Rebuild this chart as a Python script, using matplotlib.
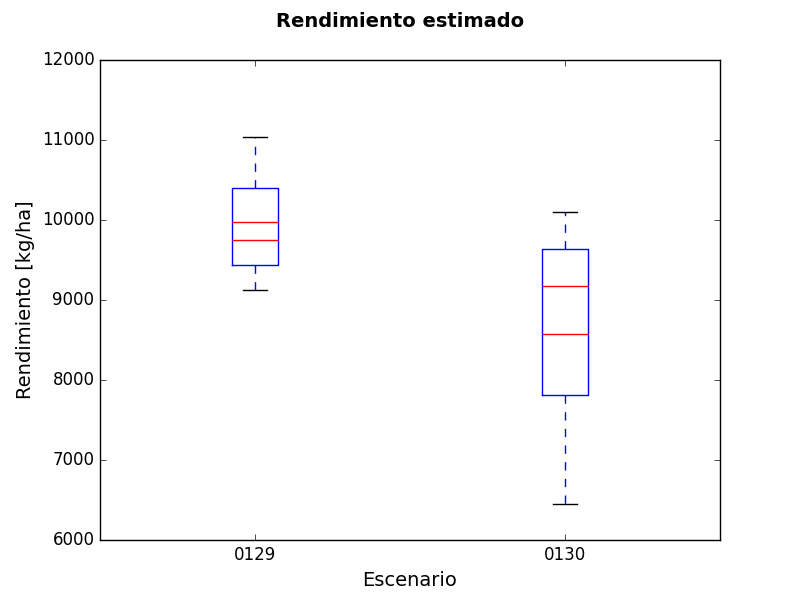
import matplotlib
matplotlib.use("Agg")
import matplotlib.pyplot as plt

plt.style.use("classic")

escenarios = ["0129", "0130"]
whislo = [9121, 6446]
q1 = [9433, 7808]
med = [9746, 8571]
mean = [9971, 9175]
q3 = [10396, 9633]
whishi = [11033, 10096]

stats = []
for i, lab in enumerate(escenarios):
    stats.append(dict(label=lab, whislo=whislo[i], q1=q1[i], med=med[i],
                      mean=mean[i], q3=q3[i], whishi=whishi[i], fliers=[]))

fig, ax = plt.subplots(figsize=(8, 6), dpi=100)
ax.bxp(stats, showmeans=True, meanline=True,
       meanprops=dict(color="red", linestyle="-", linewidth=1))
ax.set_ylim(6000, 12000)
ax.set_xlim(0.5, 2.5)
ax.set_xlabel("Escenario", fontsize=14)
ax.set_ylabel("Rendimiento [kg/ha]", fontsize=14)
fig.suptitle("Rendimiento estimado", fontsize=14, fontweight="bold")
fig.savefig("out.png", dpi=100)
